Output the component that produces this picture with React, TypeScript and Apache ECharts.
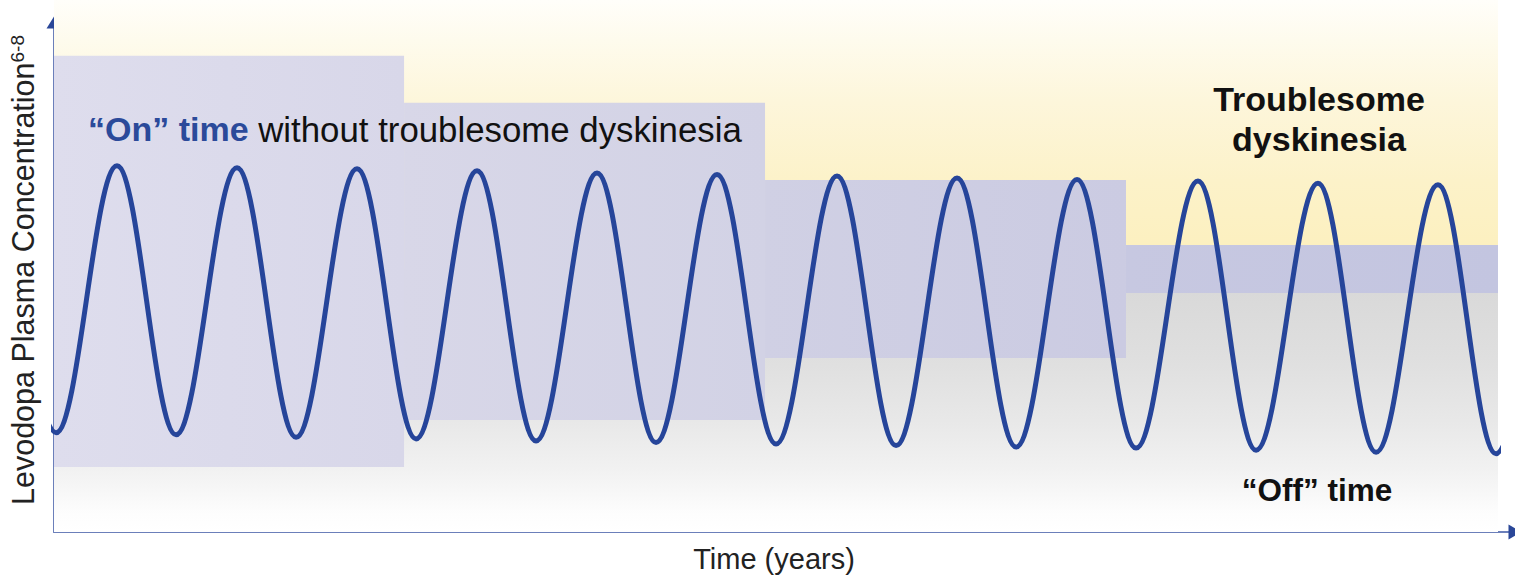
import React, { useEffect, useRef } from "react";
import * as echarts from "echarts";

// Wave (levodopa plasma concentration): time units, level units.
// The first and last entries are the off-frame doses just before / after the visible window (clipped by the frame).
const waveTime = [-0.483, 0.017, 0.525, 1.017, 1.525, 2.017, 2.525, 3.017, 3.525, 4.017, 4.525, 5.017, 5.525, 6.017, 6.525, 7.017, 7.525, 8.017, 8.525, 9.017, 9.533, 10.017, 10.533, 11.017, 11.533, 12.017, 12.517];
const waveLevel = [71.8, 19.4, 71.6, 19.0, 71.2, 18.5, 71.0, 18.2, 70.6, 17.8, 70.2, 17.5, 69.9, 17.2, 69.6, 16.9, 69.2, 16.6, 68.9, 16.4, 68.6, 16.0, 68.2, 15.6, 67.9, 15.3, 67.6];

// "On" window bands
const bandStart = [0, 2.917, 5.925, 8.933];
const bandEnd = [2.917, 5.925, 8.933, 12.033];
const bandUpper = [93.1, 83.9, 68.8, 56.1];
const bandLower = [12.7, 21.9, 34.0, 46.7];
const bandColorsFrom = ["#dedded", "#d8d7e8", "#d0d0e4", "#c7c8e1"];
const bandColorsTo = ["#d8d7e9", "#d2d2e5", "#cbcbe2", "#c3c5e0"];

const timeMax = 12.033;
const levelMax = 104;

const FONT = "'Liberation Sans', Arial, Helvetica, sans-serif";

const bgGradient = {
  type: "linear",
  x: 0, y: 0, x2: 0, y2: 1,
  colorStops: [
    { offset: 0, color: "#fffefa" },
    { offset: 0.075, color: "#fefbed" },
    { offset: 0.19, color: "#fdf6db" },
    { offset: 0.34, color: "#fcf2c9" },
    { offset: 0.46, color: "#fcf0c0" },
    { offset: 0.505, color: "#fcf0bf" },
    { offset: 0.506, color: "#d8d8d8" },
    { offset: 0.55, color: "#d9d9d9" },
    { offset: 0.673, color: "#dfdfdf" },
    { offset: 0.714, color: "#e2e2e2" },
    { offset: 0.79, color: "#e8e8e8" },
    { offset: 0.88, color: "#f1f1f1" },
    { offset: 0.965, color: "#fdfdfd" },
    { offset: 1, color: "#ffffff" },
  ],
};

function buildOption() {
  const areas: any[] = [
    [
      { xAxis: 0, yAxis: levelMax, itemStyle: { color: bgGradient, opacity: 1 } },
      { xAxis: timeMax, yAxis: 0 },
    ],
  ];
  bandStart.forEach((s, i) => {
    areas.push([
      {
        xAxis: s,
        yAxis: bandUpper[i],
        itemStyle: {
          opacity: 1,
          color: {
            type: "linear", x: 0, y: 0, x2: 1, y2: 0,
            colorStops: [
              { offset: 0, color: bandColorsFrom[i] },
              { offset: 1, color: bandColorsTo[i] },
            ],
          },
        },
      },
      { xAxis: bandEnd[i], yAxis: bandLower[i] },
    ]);
  });

  const hiddenAxis = { show: false };
  const lineColor = "#6b7fba";
  const arrowColor = "#2a4798";

  return {
    animation: false,
    backgroundColor: "#ffffff",
    grid: [
      { left: 54, right: 17, top: 0, bottom: 44, outerBoundsMode: "none" },
      { left: 54, right: 0, top: 22.5, bottom: 44, outerBoundsMode: "none" },
      { left: 54, right: 0, top: 22.5, bottom: 44, outerBoundsMode: "none" },
    ],
    xAxis: [
      { type: "value", gridIndex: 0, min: 0, max: timeMax, ...hiddenAxis },
      {
        type: "value", gridIndex: 1, min: 0, max: 1, position: "bottom",
        axisLine: { show: true, onZero: false, lineStyle: { color: lineColor, width: 2 } },
        axisTick: { show: false }, axisLabel: { show: false }, splitLine: { show: false },
      },
      {
        type: "value", gridIndex: 2, min: 0, max: 1, position: "bottom",
        axisLine: { show: true, onZero: false, symbol: ["none", "triangle"], symbolSize: [15, 13], lineStyle: { color: arrowColor, width: 0, opacity: 0 } },
        axisTick: { show: false }, axisLabel: { show: false }, splitLine: { show: false },
      },
    ],
    yAxis: [
      { type: "value", gridIndex: 0, min: 0, max: levelMax, ...hiddenAxis },
      {
        type: "value", gridIndex: 1, min: 0, max: 1, position: "left",
        axisLine: { show: true, onZero: false, lineStyle: { color: lineColor, width: 2 } },
        axisTick: { show: false }, axisLabel: { show: false }, splitLine: { show: false },
      },
      {
        type: "value", gridIndex: 2, min: 0, max: 1, position: "left",
        axisLine: { show: true, onZero: false, symbol: ["none", "triangle"], symbolSize: [15, 12], lineStyle: { color: arrowColor, width: 0, opacity: 0 } },
        axisTick: { show: false }, axisLabel: { show: false }, splitLine: { show: false },
      },
    ],
    series: [
      {
        type: "line",
        name: "Levodopa",
        xAxisIndex: 0,
        yAxisIndex: 0,
        data: waveTime.map((t, i) => [t, waveLevel[i]]),
        smooth: 0.363,
        smoothMonotone: "x",
        showSymbol: false,
        symbol: "none",
        silent: true,
        clip: true,
        z: 5,
        lineStyle: { width: 5, color: "#26459a", cap: "round", join: "round" },
        markArea: {
          silent: true,
          label: { show: false },
          data: areas,
        },
      },
    ],
    graphic: {
      elements: [
        {
          type: "text",
          x: 88,
          y: 129,
          z: 100,
          style: {
            text: "{b|\u201cOn\u201d time}{r| without troublesome dyskinesia}",
            fontSize: 34,
            fontFamily: FONT,
            fill: "#111111",
            align: "left",
            verticalAlign: "middle",
            rich: {
              b: { fontSize: 34, fontFamily: FONT, fontWeight: "bold", fill: "#2b4a9a" },
              r: { fontSize: 34.8, fontFamily: FONT, fill: "#111111" },
            },
          },
        },
        {
          type: "text",
          x: 1319,
          y: 119,
          z: 100,
          style: {
            text: "Troublesome\ndyskinesia",
            fontSize: 34,
            lineHeight: 40,
            fontWeight: "bold",
            fontFamily: FONT,
            fill: "#111111",
            align: "center",
            verticalAlign: "middle",
          },
        },
        {
          type: "text",
          x: 1317,
          y: 490,
          z: 100,
          style: {
            text: "\u201cOff\u201d time",
            fontSize: 31.5,
            fontWeight: "bold",
            fontFamily: FONT,
            fill: "#111111",
            align: "center",
            verticalAlign: "middle",
          },
        },
        {
          type: "text",
          x: 774,
          y: 559,
          z: 100,
          style: {
            text: "Time (years)",
            fontSize: 29,
            fontFamily: FONT,
            fill: "#222222",
            align: "center",
            verticalAlign: "middle",
          },
        },
        {
          type: "text",
          x: 23,
          y: 505,
          rotation: Math.PI / 2,
          z: 100,
          style: {
            text: "{m|Levodopa Plasma Concentration}{s|6-8}",
            align: "left",
            verticalAlign: "middle",
            rich: {
              m: { fontSize: 30.5, lineHeight: 31, fontFamily: FONT, fill: "#222222", verticalAlign: "bottom" },
              s: { fontSize: 19, lineHeight: 19, fontFamily: FONT, fill: "#222222", verticalAlign: "top" },
            },
          },
        },
      ],
    },
  };
}

export default function App() {
  const ref = useRef<HTMLDivElement>(null);
  useEffect(() => {
    if (!ref.current) return;
    const chart = echarts.init(ref.current, null, { renderer: "svg" });
    chart.setOption(buildOption() as any);
    return () => chart.dispose();
  }, []);
  return (
    <div
      ref={ref}
      style={{ position: "fixed", left: 0, top: 0, width: 1515, height: 576, background: "#ffffff" }}
    />
  );
}
